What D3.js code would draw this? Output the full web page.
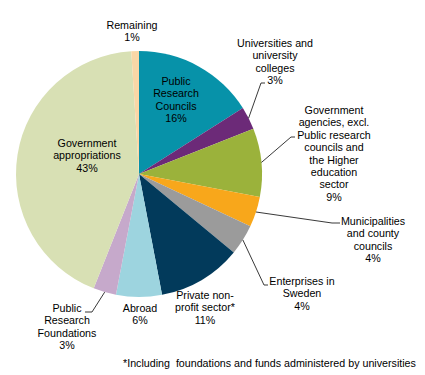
<!DOCTYPE html>
<html>
<head>
<meta charset="utf-8">
<script src="https://cdn.jsdelivr.net/npm/d3@7"></script>
<style>
  body { margin: 0; background: #fff; }
  text { font-family: "Liberation Sans", Arial, sans-serif; font-size: 10.7px; fill: #000; }
</style>
</head>
<body>
<script>
// funding sources, clockwise from 12 o'clock
const categories = [
  "Public Research Councils",
  "Universities and university colleges",
  "Government agencies, excl. Public research councils and the Higher education sector",
  "Municipalities and county councils",
  "Enterprises in Sweden",
  "Private non-profit sector*",
  "Abroad",
  "Public Research Foundations",
  "Government appropriations",
  "Remaining"
];
const shares = [16, 3, 9, 4, 4, 11, 6, 3, 43, 1];
const labelLines = [
  ["Public", "Research", "Councils"],
  ["Universities and", "university", "colleges"],
  ["Government", "agencies, excl.", "Public research", "councils and", "the Higher", "education", "sector"],
  ["Municipalities", "and county", "councils"],
  ["Enterprises in", "Sweden"],
  ["Private non-", "profit sector*"],
  ["Abroad"],
  ["Public", "Research", "Foundations"],
  ["Government", "appropriations"],
  ["Remaining"]
];
const colors = ["#0792a9", "#6c2a78", "#9bb23b", "#f8a71b", "#9b9b9b",
                "#023a5b", "#9dd4df", "#c6a9cb", "#d8e0b4", "#f9d7a6"];
const footnote = "*Including  foundations and funds administered by universities";

// label placement: text centre x, first line centre y
const labelPos = [
  [176, 81], [275, 43], [334, 110], [373, 221], [302, 281],
  [205, 295], [140, 308], [67, 308], [87, 143], [132, 25]
];
// leader lines: elbow point and end point (null = no leader)
const leaders = [
  null, [[261, 83], [265, 83]], [[291, 137], [295, 137]], [[332, 223], [340, 223]],
  [[264, 285], [268, 285]], null, null, [[92, 312], [85, 312]], null, null
];

const w = 425, h = 375;
const cx = 139, cy = 174, r = 123;
const lineH = 12.4;

const svg = d3.select("body").append("svg")
  .attr("width", w)
  .attr("height", h);

const pie = d3.pie().sort(null).value(d => d)(shares);
const arc = d3.arc().innerRadius(0).outerRadius(r);
const edge = d3.arc().innerRadius(r).outerRadius(r);

const g = svg.append("g").attr("transform", `translate(${cx},${cy})`);

g.selectAll("path")
  .data(pie)
  .enter()
  .append("path")
  .attr("d", arc)
  .attr("fill", (d, i) => colors[i]);

// leader lines from the arc edge
pie.forEach((d, i) => {
  if (!leaders[i]) return;
  const p = edge.centroid(d);
  const pts = [[p[0] + cx, p[1] + cy]].concat(leaders[i]);
  svg.append("path")
    .attr("d", d3.line()(pts))
    .attr("fill", "none")
    .attr("stroke", "#222")
    .attr("stroke-width", 0.9);
});

// labels
const labels = svg.selectAll("text.lbl")
  .data(pie)
  .enter()
  .append("text")
  .attr("class", "lbl")
  .attr("text-anchor", "middle");

labels.each(function(d, i) {
  const t = d3.select(this);
  const lines = labelLines[i].concat([d.data + "%"]);
  lines.forEach((s, j) => {
    t.append("tspan")
      .attr("x", labelPos[i][0])
      .attr("y", labelPos[i][1] + j * lineH + 4)
      .text(s);
  });
});

svg.append("text")
  .attr("x", 123)
  .attr("y", 367)
  .style("white-space", "pre")
  .text(footnote);
</script>
</body>
</html>
